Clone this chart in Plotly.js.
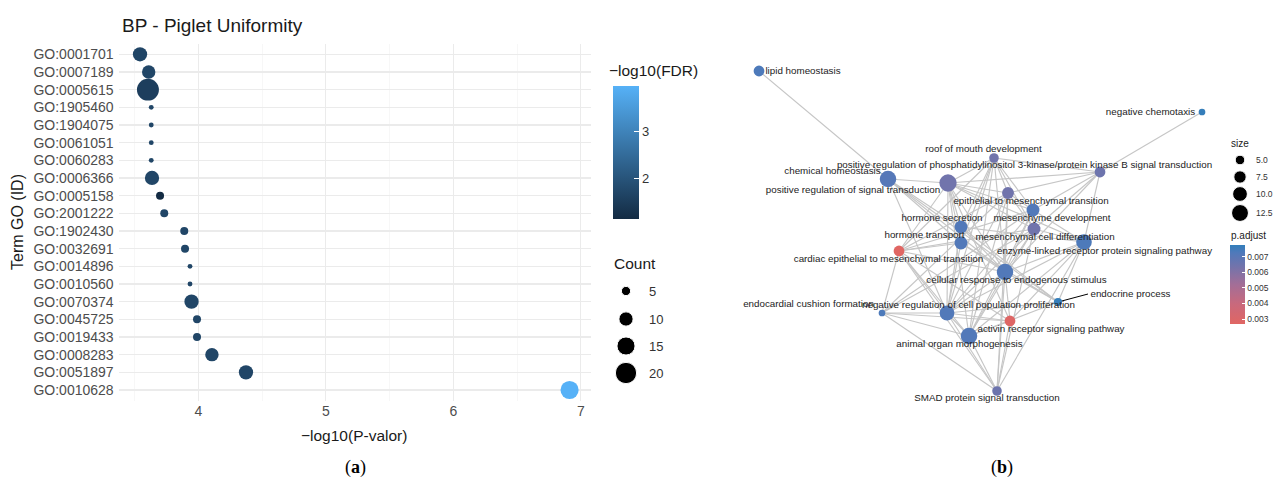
<!DOCTYPE html>
<html><head><meta charset="utf-8">
<script src="https://cdn.plot.ly/plotly-3.0.1.min.js"></script>
<style>html,body{margin:0;padding:0;background:#fff}</style>
</head><body><div id="chart" style="width:1274px;height:481px"></div>
<script>
// ---------- Panel (a) data ----------
const goIds = ["GO:0001701","GO:0007189","GO:0005615","GO:1905460","GO:1904075","GO:0061051","GO:0060283","GO:0006366","GO:0005158","GO:2001222","GO:1902430","GO:0032691","GO:0014896","GO:0010560","GO:0070374","GO:0045725","GO:0019433","GO:0008283","GO:0051897","GO:0010628"];
const negLog10P = [3.543,3.611,3.605,3.631,3.631,3.631,3.631,3.637,3.700,3.733,3.890,3.896,3.935,3.935,3.947,3.990,3.990,4.107,4.374,6.912];
const negLog10FDR = [1.70,1.72,1.55,1.72,1.72,1.72,1.72,1.72,1.15,1.72,1.72,1.72,1.72,1.72,1.72,1.72,1.72,1.72,1.72,3.97];
const geneCount = [10,9,21,2,2,2,2,10,4,4,4,4,2,2,10,4,4,9,10,15];
const countBreaks = [5,10,15,20];
const fdrTicks = [2,3];
const pTicks = [4,5,6,7];

// ---------- Panel (b) data ----------
const termNames = ["lipid homeostasis","negative chemotaxis","roof of mouth development",
 "positive regulation of phosphatidylinositol 3-kinase/protein kinase B signal transduction",
 "chemical homeostasis","positive regulation of signal transduction","epithelial to mesenchymal transition",
 "mesenchyme development","hormone secretion","mesenchymal cell differentiation","hormone transport",
 "enzyme-linked receptor protein signaling pathway","cardiac epithelial to mesenchymal transition",
 "cellular response to endogenous stimulus","endocrine process","negative regulation of cell population proliferation",
 "endocardial cushion formation","activin receptor signaling pathway","animal organ morphogenesis","SMAD protein signal transduction"];
const termPadj = [0.0073,0.0077,0.0064,0.0065,0.0071,0.0064,0.0064,0.0072,0.0072,0.0064,0.0072,0.0073,0.0027,0.0072,0.0077,0.0072,0.0073,0.0028,0.0072,0.0065];
const termSize = [6,3,5,6,12,13,7,8,8,8,8,11,6,12,4,10,3,6,12,5];
const sizeBreaks = [5,7.5,10,12.5];
const padjTicks = [0.003,0.004,0.005,0.006,0.007];
const edges = [[0,4],[1,3],
 [3,5],[3,2],[3,7],[3,9],[3,11],[3,13],[3,6],
 [2,5],[2,6],[2,7],[2,9],[2,12],[2,15],[2,18],[2,13],[2,8],[2,10],
 [4,8],[4,10],[4,13],[4,14],[4,15],[4,5],
 [5,6],[5,7],[5,8],[5,9],[5,10],[5,11],[5,13],[5,15],[5,18],[5,17],[5,12],
 [6,7],[6,9],[6,12],[6,13],[6,15],[6,18],[6,16],[6,19],
 [7,9],[7,11],[7,13],[7,15],[7,18],[7,12],[7,16],
 [8,10],[8,13],[8,14],[8,11],[8,15],
 [9,11],[9,13],[9,15],[9,18],[9,19],[9,12],[9,16],
 [10,13],[10,14],[10,15],[10,12],
 [11,13],[11,15],[11,17],[11,18],[11,19],[11,14],
 [12,16],[12,18],[12,19],[12,13],[12,15],[12,17],
 [13,14],[13,15],[13,17],[13,18],[13,19],
 [14,15],[14,18],
 [15,16],[15,17],[15,18],[15,19],
 [16,18],[16,19],[16,17],
 [17,18],[17,19],[18,19]];
// graph layout coordinates (network layout result) and repelled label anchors
const nodeX = [759,1202,994,1100,888,948,1008,1033,961,1034,961,1084,899,1005,1058,947,882,1010,969,997];
const nodeY = [71,112,158,172,179,183,193,210,227,229,243,242,251,272,302,313,313,321,336,391];
const labelX = [803,1150.5,983.5,1024.5,832.5,853,1031,1052,942,1045,924.5,1104.5,888.5,1016.5,1130.5,968.5,808.5,1051,959.5,987];
const labelY = [71.7,112.7,150,166,171.7,190.7,201.7,218.3,219,238,235.7,251.3,260,281,294.3,306,305,329.3,344.7,399];

// ---------- scales ----------
const countDiam = c => 5.4*Math.sqrt(c) - 2.8;
const sizeDiam = s => 5.66*Math.sqrt(s) - 3.1;
const FONT = "Liberation Sans, Arial, sans-serif";
const fdrScale = [[0,'#132B43'],[1,'#56B1F7']];
const padjScale = [[0,'#E06663'],[0.25,'#C9697C'],[0.5,'#A36E97'],[0.75,'#6E74AD'],[0.9,'#5079BA'],[1,'#327EBA']];

const traces = [];
// dot plot
traces.push({
  type:'scatter', mode:'markers', x:negLog10P, y:goIds, xaxis:'x', yaxis:'y',
  marker:{size:geneCount.map(countDiam), opacity:1, color:negLog10FDR, colorscale:fdrScale, cmin:1.15, cmax:3.97,
    line:{width:0},
    colorbar:{x:612.7/1274, xanchor:'left', xpad:0, y:1-86/481, yanchor:'top', ypad:0,
      len:133, lenmode:'pixels', thickness:26, thicknessmode:'pixels', outlinewidth:0,
      tickvals:fdrTicks, ticks:'inside', ticklen:5, tickcolor:'white', tickwidth:1,
      tickfont:{family:FONT, size:13, color:'#333'}, title:{text:''}}},
  hoverinfo:'skip', showlegend:false
});
// Count legend
traces.push({
  type:'scatter', mode:'markers', xaxis:'x2', yaxis:'y2',
  x:countBreaks.map(()=>626), y:[291,319,346,373],
  marker:{size:countBreaks.map(countDiam), opacity:1, color:'#000'}, hoverinfo:'skip', showlegend:false
});
// network edges
const ex=[], ey=[];
edges.forEach(([a,b])=>{ex.push(nodeX[a],nodeX[b],null); ey.push(nodeY[a],nodeY[b],null);});
traces.push({type:'scatter', mode:'lines', x:ex, y:ey, xaxis:'x2', yaxis:'y2',
  line:{color:'#C6C6C6', width:1.15}, hoverinfo:'skip', showlegend:false});
// endocrine label segment
traces.push({type:'scatter', mode:'lines', x:[nodeX[14],1088], y:[nodeY[14],294], xaxis:'x2', yaxis:'y2',
  line:{color:'#000', width:1}, hoverinfo:'skip', showlegend:false});
// nodes
traces.push({type:'scatter', mode:'markers', x:nodeX, y:nodeY, xaxis:'x2', yaxis:'y2',
  marker:{size:termSize.map(sizeDiam), opacity:1, color:termPadj, colorscale:padjScale, cmin:0.00268, cmax:0.00775, line:{width:0},
    colorbar:{x:1230/1274, xanchor:'left', xpad:0, y:1-245/481, yanchor:'top', ypad:0,
      len:79, lenmode:'pixels', thickness:15, thicknessmode:'pixels', outlinewidth:0,
      tickvals:padjTicks, ticktext:padjTicks.map(v=>v.toFixed(3)), ticks:'inside', ticklen:3, tickcolor:'white',
      tickfont:{family:FONT, size:8.5, color:'#333'}, title:{text:''}}},
  hoverinfo:'skip', showlegend:false});
// node labels
traces.push({type:'scatter', mode:'text', x:labelX, y:labelY, text:termNames, xaxis:'x2', yaxis:'y2',
  textposition:'middle center', textfont:{family:FONT, size:9.8, color:'#222'}, hoverinfo:'skip', showlegend:false});
// size legend
traces.push({type:'scatter', mode:'markers', xaxis:'x2', yaxis:'y2',
  x:sizeBreaks.map(()=>1240), y:[160,177,194,213],
  marker:{size:sizeBreaks.map(sizeDiam), opacity:1, color:'#000'}, hoverinfo:'skip', showlegend:false});

const ann = [];
const A = (x,y,text,size,opts={}) => ann.push(Object.assign({xref:'x2', yref:'y2', x, y, text, showarrow:false,
  font:{family:FONT, size, color:'#1a1a1a'}, xanchor:'left', yanchor:'middle'}, opts));
A(120, 25, 'BP - Piglet Uniformity', 19);
A(354, 435, '\u2212log10(P-valor)', 15.5, {xanchor:'center'});
A(17, 222, 'Term GO (ID)', 16, {xanchor:'center', textangle:-90});
A(607, 70, '\u2212log10(FDR)', 15.5);
A(612, 263, 'Count', 15.5);
countBreaks.forEach((c,i)=>A(647, [291,319,346,373][i], String(c), 13, {font:{family:FONT,size:13,color:'#333'}}));
A(1229, 143, 'size', 10);
sizeBreaks.forEach((s,i)=>A(1254, [160,177,194,213][i], s.toFixed(1), 8.5, {font:{family:FONT,size:8.5,color:'#333'}}));
A(1229, 235, 'p.adjust', 10);
A(355, 467, '(<b>a</b>)', 18, {xanchor:'center', font:{family:'Liberation Serif, serif', size:18, color:'#000'}});
A(1002, 467, '(<b>b</b>)', 18, {xanchor:'center', font:{family:'Liberation Serif, serif', size:18, color:'#000'}});

const layout = {
  width:1274, height:481, margin:{l:0,r:0,t:0,b:0},
  paper_bgcolor:'#fff', plot_bgcolor:'rgba(0,0,0,0)', showlegend:false,
  xaxis:{domain:[118.6/1274, 591/1274], range:[3.375,7.08], tickvals:pTicks, ticks:'', showline:false, zeroline:false,
    showgrid:true, gridcolor:'#EBEBEB', gridwidth:1.1,
    minor:{tick0:3.5, dtick:0.5, showgrid:true, gridcolor:'#F2F2F2', gridwidth:0.6},
    tickfont:{family:FONT, size:14, color:'#4D4D4D'}, anchor:'y', fixedrange:true},
  yaxis:{domain:[1-400.6/481, 1-43.7/481], type:'category', categoryorder:'array', categoryarray:goIds,
    range:[19.6,-0.6], autorange:false, ticks:'', showline:false, zeroline:false, showgrid:true, gridcolor:'#EBEBEB', gridwidth:1.1,
    tickfont:{family:FONT, size:14, color:'#4D4D4D'}, ticklabelstandoff:4, anchor:'x', fixedrange:true},
  xaxis2:{domain:[0,1], range:[0,1274], visible:false, anchor:'y2', fixedrange:true},
  yaxis2:{domain:[0,1], range:[481,0], visible:false, anchor:'x2', fixedrange:true},
  annotations:ann
};
Plotly.newPlot('chart', traces, layout, {staticPlot:true, displayModeBar:false});
</script></body></html>
